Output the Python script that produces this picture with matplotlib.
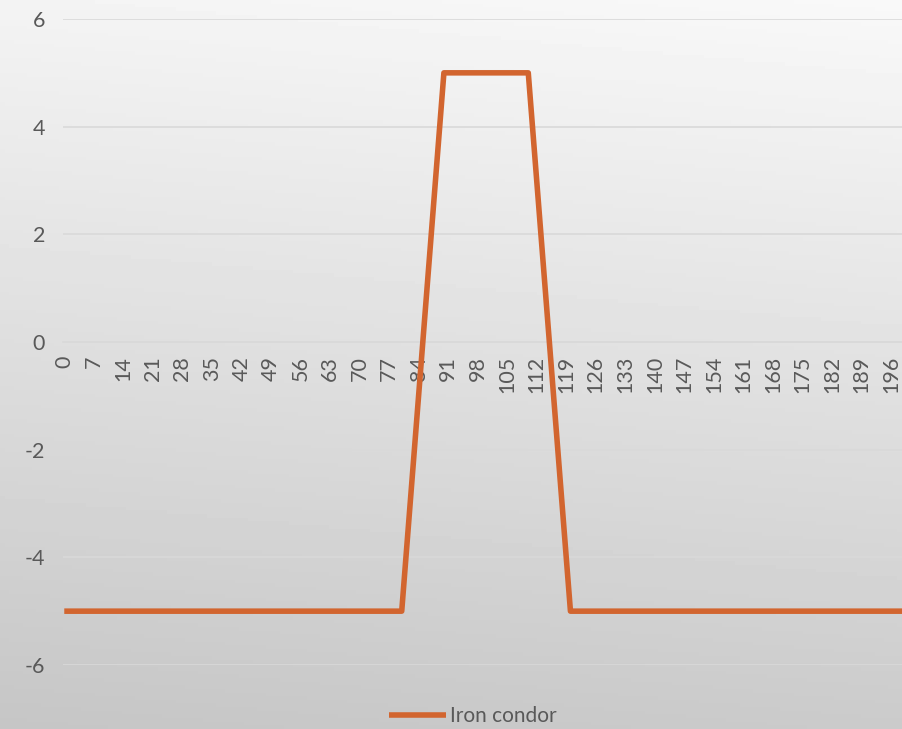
import numpy as np
import matplotlib.pyplot as plt

# underlying price at the kinks of the payoff, and profit/loss there
price = [0, 80, 90, 110, 120, 200]
payoff = [-5, -5, 5, 5, -5, -5]
x_ticks = list(range(0, 197, 7))
y_ticks = [-6, -4, -2, 0, 2, 4, 6]

line_color = '#D2652F'
text_color = '#595959'
grid_color = '#d9d9d9'

plt.rcParams['font.family'] = ['Lato', 'DejaVu Sans']
plt.rcParams['axes.unicode_minus'] = False

fig = plt.figure(figsize=(9.02, 7.29), dpi=100)

# gray gradient background, lighter at the top
bg = fig.add_axes([0, 0, 1, 1], zorder=-10)
yy, xx = np.mgrid[0:1:200j, 0:1:200j]
shade = 0.955 - 0.18 * yy + 0.02 * xx
bg.imshow(shade, cmap='gray', vmin=0, vmax=1, aspect='auto', origin='upper',
          extent=[0, 1, 0, 1])
bg.axis('off')

ax = fig.add_axes([63 / 902, 64 / 729, 1 - 63 / 902, 646 / 729])
ax.patch.set_alpha(0)
ax.plot(price, payoff, color=line_color, lw=4, solid_joinstyle='round',
        solid_capstyle='butt', label='Iron condor', zorder=3)

for s in ['top', 'right', 'left']:
    ax.spines[s].set_visible(False)
ax.spines['bottom'].set_position(('data', 0))
ax.spines['bottom'].set_color(grid_color)
ax.spines['bottom'].set_linewidth(1.2)

ax.set_xlim(-0.3, 198.6)
ax.set_ylim(-6, 6)
ax.set_yticks(y_ticks)
ax.set_xticks(x_ticks)
ax.set_xticklabels([str(t) for t in x_ticks])
ax.grid(axis='y', color=grid_color, lw=1.2)
ax.set_axisbelow(True)

ax.tick_params(axis='both', length=0, labelsize=15.5, colors=text_color)
ax.tick_params(axis='y', pad=13)
ax.tick_params(axis='x', pad=10, labelrotation=90)

fig.legend(loc='center', bbox_to_anchor=(473 / 902, 1 - 716 / 729), frameon=False,
           fontsize=15, labelcolor=text_color, handlelength=2.7, handletextpad=0.2)

fig.savefig('out.png', dpi=100)
